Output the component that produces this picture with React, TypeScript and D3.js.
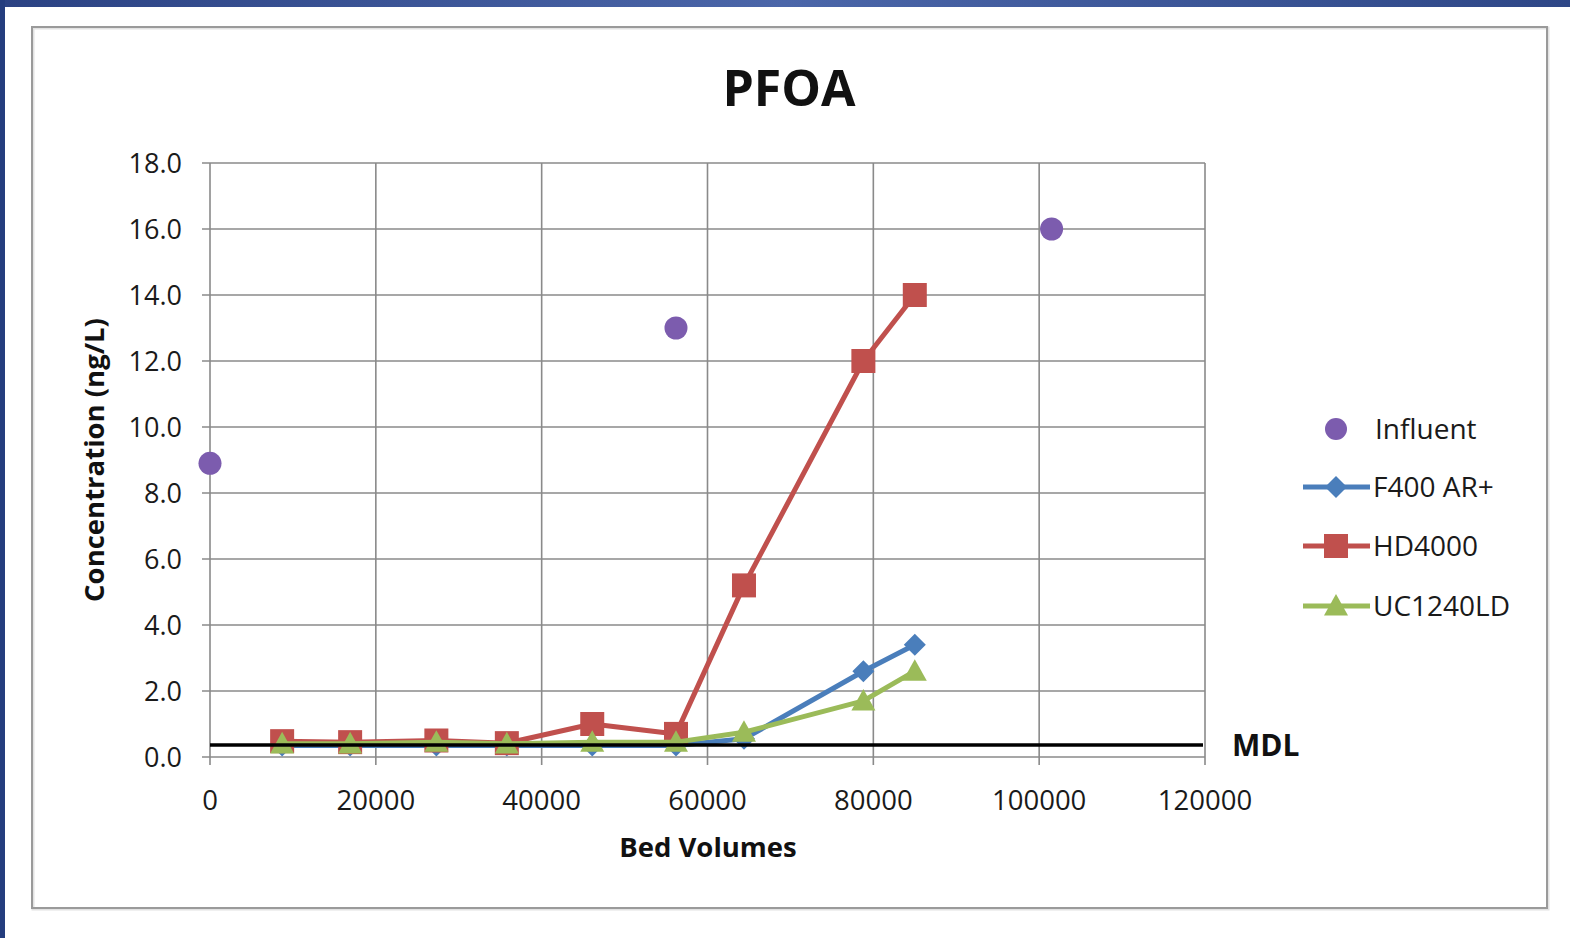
import React from "react";
import * as d3 from "d3";

const W = 1570;
const H = 938;

// Bed volume positions for the effluent samples
const bedVolumes = [8700, 16900, 27300, 35800, 46100, 56200, 64400, 78800, 85000];

const influentX = [0, 56200, 101500];
const influentY = [8.9, 13.0, 16.0];

const f400Values = [0.35, 0.35, 0.35, 0.35, 0.35, 0.35, 0.55, 2.6, 3.4];
const hd4000Values = [0.48, 0.45, 0.5, 0.42, 1.0, 0.7, 5.2, 12.0, 14.0];
const uc1240Values = [0.4, 0.4, 0.45, 0.4, 0.45, 0.45, 0.75, 1.7, 2.6];

const mdlValue = 0.36;

const xTicks = [0, 20000, 40000, 60000, 80000, 100000, 120000];
const yTicks = [0, 2, 4, 6, 8, 10, 12, 14, 16, 18];

const FONT = "'Open Sans', 'Liberation Sans', sans-serif";
const COL_INF = "#7c5cae";
const COL_BLUE = "#4a7ebb";
const COL_RED = "#c0504d";
const COL_GREEN = "#9bbb59";
const TXT = "#1a1a1a";

type Pt = { x: number; y: number };

export default function App() {
  const x = d3.scaleLinear().domain([0, 120000]).range([210, 1205]);
  const y = d3.scaleLinear().domain([0, 18]).range([757, 163]);
  const line = d3
    .line<Pt>()
    .x((d) => x(d.x))
    .y((d) => y(d.y));

  const mk = (vals: number[]): Pt[] => vals.map((v, i) => ({ x: bedVolumes[i], y: v }));
  const blue = mk(f400Values);
  const red = mk(hd4000Values);
  const green = mk(uc1240Values);

  const diamond = (cx: number, cy: number, r: number) =>
    `M${cx},${cy - r}L${cx + r},${cy}L${cx},${cy + r}L${cx - r},${cy}Z`;
  const tri = (cx: number, cy: number, r: number) =>
    `M${cx},${cy - r}L${cx + r},${cy + r * 0.8}L${cx - r},${cy + r * 0.8}Z`;

  const legendY = [429, 487, 546, 606];

  return (
    <svg
      width={W}
      height={H}
      style={{ position: "absolute", left: 0, top: 0, display: "block" }}
      fontFamily={FONT}
    >
      <defs>
        <linearGradient id="band" x1="0" x2="1" y1="0" y2="0">
          <stop offset="0" stopColor="#2b4283" />
          <stop offset="0.5" stopColor="#4b66a9" />
          <stop offset="1" stopColor="#2e4787" />
        </linearGradient>
        <clipPath id="plotClip">
          <rect x={195} y={150} width={1025} height={620} />
        </clipPath>
      </defs>
      <rect x={0} y={0} width={W} height={H} fill="#ffffff" />
      <rect x={0} y={0} width={W} height={7} fill="url(#band)" />
      <rect x={0} y={0} width={5} height={H} fill="#243d7e" />

      {/* chart frame */}
      <rect x={33} y={28} width={1515} height={881} fill="none" stroke="#e2e2e2" strokeWidth={3} />
      <rect x={32} y={27} width={1515} height={881} fill="none" stroke="#9a9a9a" strokeWidth={2} />

      {/* title */}
      <text x={789} y={106} textAnchor="middle" fontSize={50} fontWeight="bold" fill="#111">
        PFOA
      </text>

      {/* gridlines */}
      {yTicks.map((t) => (
        <line key={"gy" + t} x1={202} x2={1205} y1={y(t)} y2={y(t)} stroke="#8a8a8a" strokeWidth={1.6} />
      ))}
      {xTicks.map((t) => (
        <line key={"gx" + t} x1={x(t)} x2={x(t)} y1={163} y2={765} stroke="#8a8a8a" strokeWidth={1.6} />
      ))}

      {/* y tick labels */}
      {yTicks.map((t) => (
        <text key={"ly" + t} x={182} y={y(t) + 9.5} textAnchor="end" fontSize={27} fill={TXT}>
          {t.toFixed(1)}
        </text>
      ))}
      {/* x tick labels */}
      {xTicks.map((t) => (
        <text key={"lx" + t} x={x(t)} y={810} textAnchor="middle" fontSize={27.5} fill={TXT}>
          {t}
        </text>
      ))}

      {/* axis titles */}
      <text x={708} y={857} textAnchor="middle" fontSize={27.5} fontWeight="bold" fill="#111">
        Bed Volumes
      </text>
      <text
        transform="translate(104,460) rotate(-90)"
        textAnchor="middle"
        fontSize={27.5}
        fontWeight="bold"
        fill="#111"
      >
        Concentration (ng/L)
      </text>

      {/* series */}
      <g clipPath="url(#plotClip)">
        <path d={line(blue) ?? ""} fill="none" stroke={COL_BLUE} strokeWidth={5} strokeLinejoin="round" />
        {blue.map((d, i) => (
          <path key={"b" + i} d={diamond(x(d.x), y(d.y), 11)} fill={COL_BLUE} />
        ))}
        <path d={line(red) ?? ""} fill="none" stroke={COL_RED} strokeWidth={5} strokeLinejoin="round" />
        {red.map((d, i) => (
          <rect key={"r" + i} x={x(d.x) - 12} y={y(d.y) - 12} width={24} height={24} fill={COL_RED} />
        ))}
        <path d={line(green) ?? ""} fill="none" stroke={COL_GREEN} strokeWidth={5} strokeLinejoin="round" />
        {green.map((d, i) => (
          <path key={"g" + i} d={tri(x(d.x), y(d.y), 12)} fill={COL_GREEN} />
        ))}
        {influentX.map((v, i) => (
          <circle key={"i" + i} cx={x(v)} cy={y(influentY[i])} r={11.5} fill={COL_INF} />
        ))}
      </g>

      {/* method detection limit */}
      <line x1={x(0)} x2={1203} y1={y(mdlValue)} y2={y(mdlValue)} stroke="#000" strokeWidth={3.5} />
      <text x={1232} y={y(mdlValue) + 11} fontSize={30} fontWeight="bold" fill="#111">
        MDL
      </text>

      {/* legend */}
      <circle cx={1336} cy={legendY[0]} r={11} fill={COL_INF} />
      <text x={1375} y={legendY[0] + 10} fontSize={28} fill={TXT}>
        Influent
      </text>

      <line x1={1303} x2={1370} y1={legendY[1]} y2={legendY[1]} stroke={COL_BLUE} strokeWidth={5} />
      <path d={diamond(1336, legendY[1], 11)} fill={COL_BLUE} />
      <text x={1373} y={legendY[1] + 10} fontSize={28} fill={TXT}>
        F400 AR+
      </text>

      <line x1={1303} x2={1370} y1={legendY[2]} y2={legendY[2]} stroke={COL_RED} strokeWidth={5} />
      <rect x={1324} y={legendY[2] - 12} width={24} height={24} fill={COL_RED} />
      <text x={1373} y={legendY[2] + 10} fontSize={28} fill={TXT}>
        HD4000
      </text>

      <line x1={1303} x2={1370} y1={legendY[3]} y2={legendY[3]} stroke={COL_GREEN} strokeWidth={5} />
      <path d={tri(1336, legendY[3], 12)} fill={COL_GREEN} />
      <text x={1373} y={legendY[3] + 10} fontSize={28} fill={TXT}>
        UC1240LD
      </text>
    </svg>
  );
}
